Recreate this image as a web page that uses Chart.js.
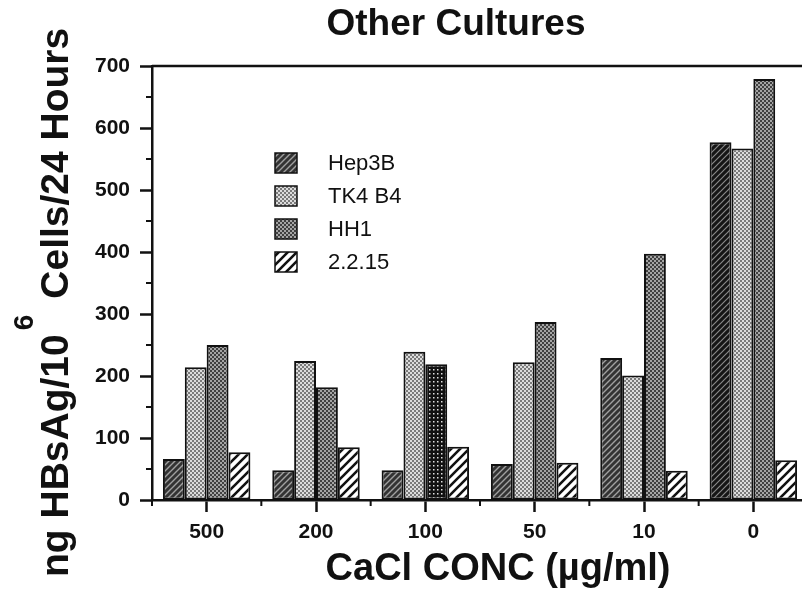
<!DOCTYPE html>
<html>
<head>
<meta charset="utf-8">
<title>Other Cultures</title>
<script src="https://cdn.jsdelivr.net/npm/chart.js@4.4.1/dist/chart.umd.min.js"></script>
<style>
	html, body { margin:0; padding:0; background:#fff; overflow:hidden; }
	#wrap { width:830px; height:591px; }
</style>
</head>
<body>
<div id="wrap"><canvas id="chart" width="830" height="591"></canvas></div>
<script>
// CaCl concentrations (x categories) and HBsAg output per cell line
const concLabels = ["500", "200", "100", "50", "10", "0"];
const hep3b  = [66, 48, 48, 58, 229, 577];
const tk4b4  = [214, 224, 239, 222, 201, 567];
const hh1    = [250, 182, 219, 287, 397, 679];
const hb2215 = [77, 85, 86, 60, 47, 64];
const seriesNames = ["Hep3B", "TK4 B4", "HH1", "2.2.15"];
const yTicks = [0, 100, 200, 300, 400, 500, 600, 700];

const ink = "#111";
const ctx = document.getElementById("chart").getContext("2d");

// small repeating fills that look like the old screen tones
const makePattern = function(size, draw){
	let c = document.createElement("canvas");
	c.width = c.height = size;
	draw(c.getContext("2d"), size);
	return ctx.createPattern(c, "repeat");
};
const hatch = function(bg, fg, w){
	return function(g, s){
		g.fillStyle = bg; g.fillRect(0, 0, s, s);
		g.strokeStyle = fg; g.lineWidth = w;
		g.beginPath();
		g.moveTo(-1, s + 1); g.lineTo(s + 1, -1);
		g.moveTo(-1, 1); g.lineTo(1, -1);
		g.moveTo(s - 1, s + 1); g.lineTo(s + 1, s - 1);
		g.stroke();
	};
};
const checker = function(a, b){
	return function(g, s){
		g.fillStyle = a; g.fillRect(0, 0, s, s);
		g.fillStyle = b;
		g.fillRect(0, 0, s / 2, s / 2);
		g.fillRect(s / 2, s / 2, s / 2, s / 2);
	};
};

const fillHep = makePattern(6, hatch("#333", "#a0a0a0", 1.4)),
	fillHepDark = makePattern(6, hatch("#151515", "#8a8a8a", 1.2)),
	fillTk = makePattern(4, checker("#dcdcdc", "#7a7a7a")),
	fillHh = makePattern(4, checker("#a4a4a4", "#404040")),
	fillHhDark = makePattern(4, function(g, s){
		g.fillStyle = "#111"; g.fillRect(0, 0, s, s);
		g.fillStyle = "#e0e0e0"; g.fillRect(1, 1, 1.5, 1.5);
	}),
	fillHb = makePattern(9, hatch("#fff", "#111", 2.6));

const legendFills = [fillHep, fillTk, fillHh, fillHb];

const mkSet = function(i, data, bg){
	return {
		label: seriesNames[i],
		data: data,
		backgroundColor: bg,
		borderColor: ink,
		borderWidth: 2,
		borderSkipped: false,
		categoryPercentage: 0.8,
		barPercentage: 1.0
	};
};

const decor = {
	id: "decor",
	afterDraw(chart){
		let g = chart.ctx,
			a = chart.chartArea,
			xs = chart.scales.x,
			ys = chart.scales.y;

		g.save();
		g.strokeStyle = ink;
		g.lineCap = "butt";

		// top frame line
		g.lineWidth = 2.5;
		g.beginPath();
		g.moveTo(a.left, a.top);
		g.lineTo(chart.width, a.top);
		g.stroke();

		// minor ticks
		g.lineWidth = 2;
		g.beginPath();
		for(let v = 50; v < 700; v += 100){
			let y = ys.getPixelForValue(v);
			g.moveTo(a.left - 6, y); g.lineTo(a.left, y);
		}
		for(let i = 0; i <= concLabels.length; i++){
			let x;
			if(i == 0) x = a.left;
			else if(i == concLabels.length) x = a.right;
			else x = (xs.getPixelForValue(i - 1) + xs.getPixelForValue(i)) / 2;
			g.moveTo(x, a.bottom); g.lineTo(x, a.bottom + 6);
		}
		g.stroke();

		// legend
		g.font = '22px "Liberation Sans", Arial, sans-serif';
		g.textBaseline = "middle";
		g.textAlign = "left";
		seriesNames.forEach((name, i) => {
			let bx = a.left + 123, by = a.top + 87 + i * 33;
			g.fillStyle = legendFills[i];
			g.fillRect(bx, by, 22, 20);
			g.lineWidth = 1.5;
			g.strokeRect(bx, by, 22, 20);
			g.fillStyle = ink;
			g.fillText(name, bx + 53, by + 11);
		});

		// chart title
		g.textAlign = "center";
		g.textBaseline = "alphabetic";
		g.font = 'bold 37px "Liberation Sans", Arial, sans-serif';
		g.fillText("Other Cultures", 456, 35);

		// x title
		g.font = 'bold 38px "Liberation Sans", Arial, sans-serif';
		g.fillText("CaCl CONC (\u00b5g/ml)", 498, 580);

		// y title, rotated, with the superscript 6
		g.translate(68, 577);
		g.rotate(-Math.PI / 2);
		g.textAlign = "left";
		g.font = 'bold 39px "Liberation Sans", Arial, sans-serif';
		let part1 = "ng HBsAg/10";
		g.fillText(part1, 0, 0);
		let px = g.measureText(part1).width + 4;
		g.font = 'bold 28px "Liberation Sans", Arial, sans-serif';
		g.fillText("6", px, -35);
		px += g.measureText("6").width + 16;
		g.font = 'bold 39px "Liberation Sans", Arial, sans-serif';
		g.fillText("Cells/24 Hours", px, 0);
		g.restore();
	}
};

const tickFont = { family: '"Liberation Sans", Arial, sans-serif', size: 21, weight: "bold" };

new Chart(ctx, {
	type: "bar",
	data: {
		labels: concLabels,
		datasets: [
			mkSet(0, hep3b, (c) => (c.dataIndex == 5 ? fillHepDark : fillHep)),
			mkSet(1, tk4b4, fillTk),
			mkSet(2, hh1, (c) => (c.dataIndex == 2 ? fillHhDark : fillHh)),
			mkSet(3, hb2215, fillHb)
		]
	},
	options: {
		responsive: false,
		animation: false,
		layout: { padding: { left: 0, top: 66, right: 22, bottom: 0 } },
		plugins: {
			legend: { display: false },
			title: { display: false },
			tooltip: { enabled: false }
		},
		scales: {
			x: {
				grid: { offset: false, drawOnChartArea: false, tickLength: 12, tickWidth: 2.5, tickColor: ink },
				border: { color: ink, width: 2.5 },
				ticks: { padding: 8, color: ink, font: tickFont, maxRotation: 0 },
				afterFit(s){ s.height = 91; }
			},
			y: {
				min: 0,
				max: 700,
				afterBuildTicks(s){ s.ticks = yTicks.map(v => ({ value: v })); },
				grid: { drawOnChartArea: false, tickLength: 12, tickWidth: 2.5, tickColor: ink },
				border: { color: ink, width: 2.5 },
				ticks: { padding: 10, color: ink, font: tickFont },
				afterFit(s){ s.width = 152; }
			}
		}
	},
	plugins: [decor]
});
</script>
</body>
</html>
